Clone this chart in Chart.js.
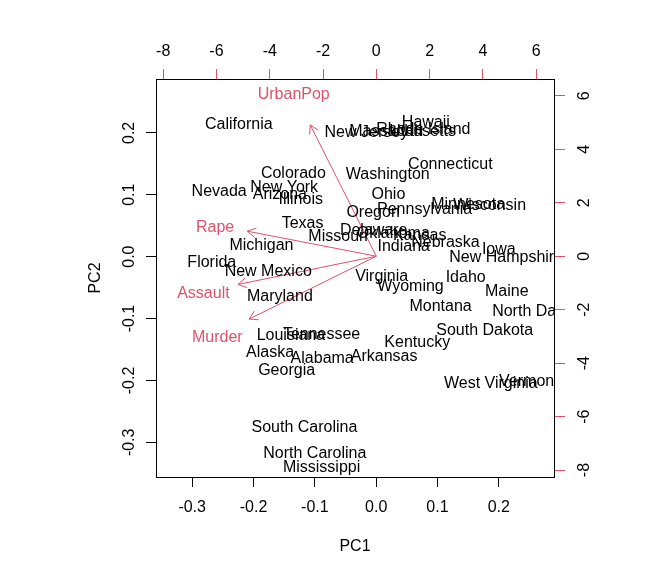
<!DOCTYPE html>
<html>
<head>
<meta charset="utf-8">
<title>biplot USArrests</title>
<script src="https://cdn.jsdelivr.net/npm/chart.js@4.4.1/dist/chart.umd.min.js"></script>
<style>
  html, body { margin: 0; padding: 0; background: #fff; }
  canvas { display: block; }
</style>
</head>
<body>
<canvas id="biplot" width="672" height="576"></canvas>
<script>
// state scores as read on the bottom (PC1) and left (PC2) axes
const states = ['Alabama', 'Alaska', 'Arizona', 'Arkansas', 'California', 'Colorado', 'Connecticut',
  'Delaware', 'Florida', 'Georgia', 'Hawaii', 'Idaho', 'Illinois', 'Indiana', 'Iowa', 'Kansas',
  'Kentucky', 'Louisiana', 'Maine', 'Maryland', 'Massachusetts', 'Michigan', 'Minnesota',
  'Mississippi', 'Missouri', 'Montana', 'Nebraska', 'Nevada', 'New Hampshire', 'New Jersey',
  'New Mexico', 'New York', 'North Carolina', 'North Dakota', 'Ohio', 'Oklahoma', 'Oregon',
  'Pennsylvania', 'Rhode Island', 'South Carolina', 'South Dakota', 'Tennessee', 'Texas', 'Utah',
  'Vermont', 'Virginia', 'Washington', 'West Virginia', 'Wisconsin', 'Wyoming'];
const pc1 = [-0.088, -0.173, -0.157, 0.013, -0.224, -0.135, 0.121,
  -0.004, -0.268, -0.146, 0.081, 0.146, -0.123, 0.045, 0.200, 0.071,
  0.067, -0.139, 0.213, -0.157, 0.043, -0.187, 0.150,
  -0.089, -0.062, 0.105, 0.113, -0.256, 0.212, -0.016,
  -0.176, -0.150, -0.100, 0.266, 0.020, 0.028, -0.005,
  0.079, 0.077, -0.117, 0.177, -0.089, -0.120, 0.049,
  0.249, 0.009, 0.019, 0.187, 0.185, 0.056];
const pc2 = [-0.160, -0.151, 0.105, -0.158, 0.217, 0.139, 0.153,
  0.046, -0.006, -0.180, 0.221, -0.030, 0.096, 0.021, 0.015, 0.038,
  -0.135, -0.123, -0.053, -0.060, 0.207, 0.022, 0.089,
  -0.337, 0.037, -0.076, 0.027, 0.109, 0.003, 0.204,
  -0.020, 0.116, -0.314, -0.084, 0.104, 0.041, 0.076,
  0.080, 0.210, -0.272, -0.116, -0.121, 0.058, 0.207,
  -0.197, -0.028, 0.137, -0.201, 0.086, -0.045];

// variable loadings on the top / right axes (arrows go to 0.8 of these)
const variables = ['Murder', 'Assault', 'UrbanPop', 'Rape'];
const loadX = [-5.97, -6.49, -3.10, -6.05];
const loadY = [-2.94, -1.32, 6.14, 1.17];

const pcTicks = [-0.3, -0.2, -0.1, 0, 0.1, 0.2];
const loadTicks = [-8, -6, -4, -2, 0, 2, 4, 6];

const red = '#DF536B';
const fontStr = '16px "Liberation Sans", Arial, sans-serif';

Chart.defaults.font.family = '"Liberation Sans", Arial, sans-serif';
Chart.defaults.font.size = 16;
Chart.defaults.color = '#000';

// names, arrow heads and the rotated side tick labels
const biplotText = {
  id: 'biplotText',
  afterDatasetsDraw(chart) {
    const { ctx, chartArea: a, scales: s } = chart;
    ctx.save();
    ctx.beginPath();
    ctx.rect(a.left, a.top, a.right - a.left, a.bottom - a.top);
    ctx.clip();
    ctx.font = fontStr;
    ctx.textAlign = 'center';
    ctx.textBaseline = 'alphabetic';
    ctx.fillStyle = '#000';
    states.forEach((name, i) => {
      ctx.fillText(name, s.x.getPixelForValue(pc1[i]), s.y.getPixelForValue(pc2[i]) + 7);
    });

    const ox = s.x2.getPixelForValue(0);
    const oy = s.y2.getPixelForValue(0);
    ctx.strokeStyle = red;
    ctx.fillStyle = red;
    ctx.lineWidth = 1;
    variables.forEach((v, i) => {
      const tx = s.x2.getPixelForValue(0.8 * loadX[i]);
      const ty = s.y2.getPixelForValue(0.8 * loadY[i]);
      const ang = Math.atan2(ty - oy, tx - ox);
      ctx.beginPath();
      [-Math.PI / 6, Math.PI / 6].forEach(d => {
        ctx.moveTo(tx, ty);
        ctx.lineTo(tx - 9.6 * Math.cos(ang + d), ty - 9.6 * Math.sin(ang + d));
      });
      ctx.stroke();
      ctx.fillText(v, s.x2.getPixelForValue(loadX[i]), s.y2.getPixelForValue(loadY[i]) + 7);
    });
    ctx.restore();
  },
  afterDraw(chart) {
    const { ctx, scales: s } = chart;
    ctx.save();
    ctx.font = fontStr;
    ctx.fillStyle = '#000';
    ctx.textAlign = 'center';
    ctx.textBaseline = 'middle';
    const side = (scale, x, fmt) => scale.ticks.forEach(t => {
      ctx.save();
      ctx.translate(x, scale.getPixelForValue(t.value));
      ctx.rotate(-Math.PI / 2);
      ctx.fillText(fmt(t.value), 0, 0);
      ctx.restore();
    });
    side(s.y, 130, v => v.toFixed(1));
    side(s.y2, 585, v => String(v));
    ctx.restore();
  }
};

const setTicks = list => scale => { scale.ticks = list.map(v => ({ value: v })); };

new Chart(document.getElementById('biplot'), {
  type: 'scatter',
  data: {
    datasets: [
      {
        label: 'states',
        data: states.map((n, i) => ({ x: pc1[i], y: pc2[i] })),
        pointRadius: 0,
        xAxisID: 'x',
        yAxisID: 'y'
      },
      ...variables.map((v, i) => ({
        label: v,
        data: [{ x: 0, y: 0 }, { x: 0.8 * loadX[i], y: 0.8 * loadY[i] }],
        showLine: true,
        borderColor: red,
        borderWidth: 1,
        pointRadius: 0,
        xAxisID: 'x2',
        yAxisID: 'y2'
      }))
    ]
  },
  options: {
    responsive: false,
    animation: false,
    events: [],
    layout: { padding: 0 },
    plugins: { legend: { display: false }, tooltip: { enabled: false } },
    scales: {
      x: {
        type: 'linear', position: 'bottom', bounds: 'data',
        min: -0.359, max: 0.290,
        afterBuildTicks: setTicks(pcTicks),
        afterFit: sc => { sc.height = 99; },
        ticks: { padding: 11, maxRotation: 0, autoSkip: false, callback: v => v.toFixed(1) },
        grid: { drawOnChartArea: false, tickLength: 10, color: '#000' },
        border: { color: '#000' },
        title: { display: true, text: 'PC1', padding: { top: 0, bottom: 20 } }
      },
      y: {
        type: 'linear', position: 'left', bounds: 'data',
        min: -0.356, max: 0.287,
        afterBuildTicks: setTicks(pcTicks),
        afterFit: sc => { sc.width = 156; },
        ticks: { display: false },
        grid: { drawOnChartArea: false, tickLength: 10, color: '#000' },
        border: { color: '#000' },
        title: { display: true, text: 'PC2', padding: { top: 86, bottom: 0 } }
      },
      x2: {
        type: 'linear', position: 'top', bounds: 'data',
        min: -8.27, max: 6.67,
        afterBuildTicks: setTicks(loadTicks),
        afterFit: sc => { sc.height = 79; },
        ticks: { padding: 8, maxRotation: 0, autoSkip: false, callback: v => String(v) },
        grid: { drawOnChartArea: false, tickLength: 10, color: red },
        border: { color: '#000' }
      },
      y2: {
        type: 'linear', position: 'right', bounds: 'data',
        min: -8.26, max: 6.63,
        afterBuildTicks: setTicks(loadTicks),
        afterFit: sc => { sc.width = 118; },
        ticks: { display: false },
        grid: { drawOnChartArea: false, tickLength: 11, color: red },
        border: { color: '#000' }
      }
    }
  },
  plugins: [biplotText]
});
</script>
</body>
</html>
